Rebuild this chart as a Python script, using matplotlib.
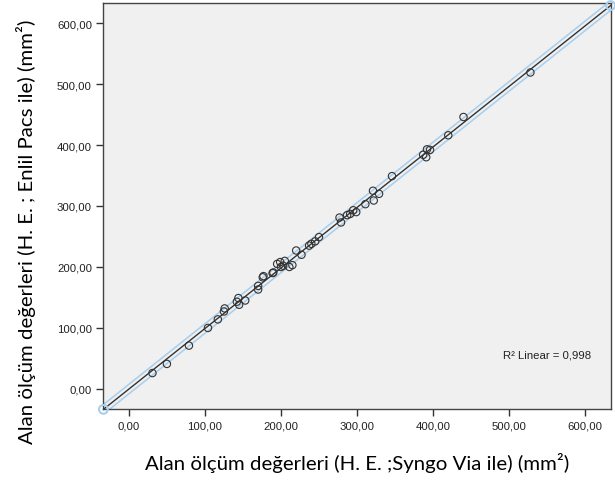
import numpy as np
import matplotlib.pyplot as plt
from matplotlib.ticker import FuncFormatter

# Syngo Via (x) vs Enlil Pacs (y) alan ölçümleri, mm^2
syngo = [31, 50, 79, 104, 117, 125, 126, 142, 144, 145, 153, 170, 170, 176,
         177, 189, 190, 195, 199, 200, 203, 205, 211, 215, 220, 227, 237, 240,
         245, 250, 277, 279, 287, 291, 295, 299, 311, 321, 322, 329, 346, 387,
         391, 392, 396, 420, 440, 528]
enlil = [26, 41, 71, 100, 114, 127, 132, 143, 149, 138, 145, 163, 169, 183,
         185, 190, 191, 205, 208, 200, 202, 210, 200, 203, 227, 220, 235, 238,
         242, 249, 281, 273, 285, 287, 293, 290, 303, 325, 309, 320, 349, 384,
         380, 393, 392, 416, 446, 519]
ticks = [0, 100, 200, 300, 400, 500, 600]
lo, hi = -34, 634

fig = plt.figure(figsize=(6.15, 4.85), dpi=100)
ax = fig.add_axes([0.1675, 0.1546, 0.826, 0.8372])
ax.set_facecolor('#f0f0f0')

# fit line
b, a = np.polyfit(syngo, enlil, 1)
xx = np.array([lo, hi])
yy = a + b * xx
ax.plot(xx, yy, color='#a8cfee', lw=6.5, solid_capstyle='butt', zorder=2)
ax.plot(xx, yy, color='#f0f0f0', lw=4.2, solid_capstyle='butt', zorder=2)
ax.plot(xx, yy, color='#333333', lw=1.0, zorder=3)
ax.scatter([lo + 0.5, hi - 0.5], [a + b * (lo + 0.5), a + b * (hi - 0.5)], s=40,
           facecolors='none', edgecolors='#a8cfee', lw=1.5, zorder=4, clip_on=False)

ax.scatter(syngo, enlil, s=28, facecolors='none', edgecolors='#333333',
           linewidths=0.8, zorder=5)

ax.set_xlim(lo, hi)
ax.set_ylim(-33, 633)
ax.set_xticks(ticks)
ax.set_yticks(ticks)
fmt = FuncFormatter(lambda v, p: f'{v:.2f}'.replace('.', ','))
ax.xaxis.set_major_formatter(fmt)
ax.yaxis.set_major_formatter(fmt)
ax.tick_params(direction='out', length=5, width=1, color='#333333',
               labelsize=8.2, labelcolor='#222222', pad=3)
for lab in ax.get_xticklabels() + ax.get_yticklabels():
    lab.set_family('Liberation Sans')
for s in ax.spines.values():
    s.set_color('#444444')
    s.set_linewidth(1)

ax.text(492, 57, 'R² Linear = 0,998', fontsize=8.2, family='Liberation Sans',
        color='#222222', va='center')

ax.set_xlabel('Alan ölçüm değerleri (H. E. ;Syngo Via ile) (mm²)',
              fontsize=14.7, family='Lato', labelpad=16)
ax.set_ylabel('Alan ölçüm değerleri (H. E. ; Enlil Pacs ile) (mm²)',
              fontsize=14.7, family='Lato', va='center')
ax.yaxis.set_label_coords(-0.152, 0.44)

fig.savefig('out.png', dpi=100)
